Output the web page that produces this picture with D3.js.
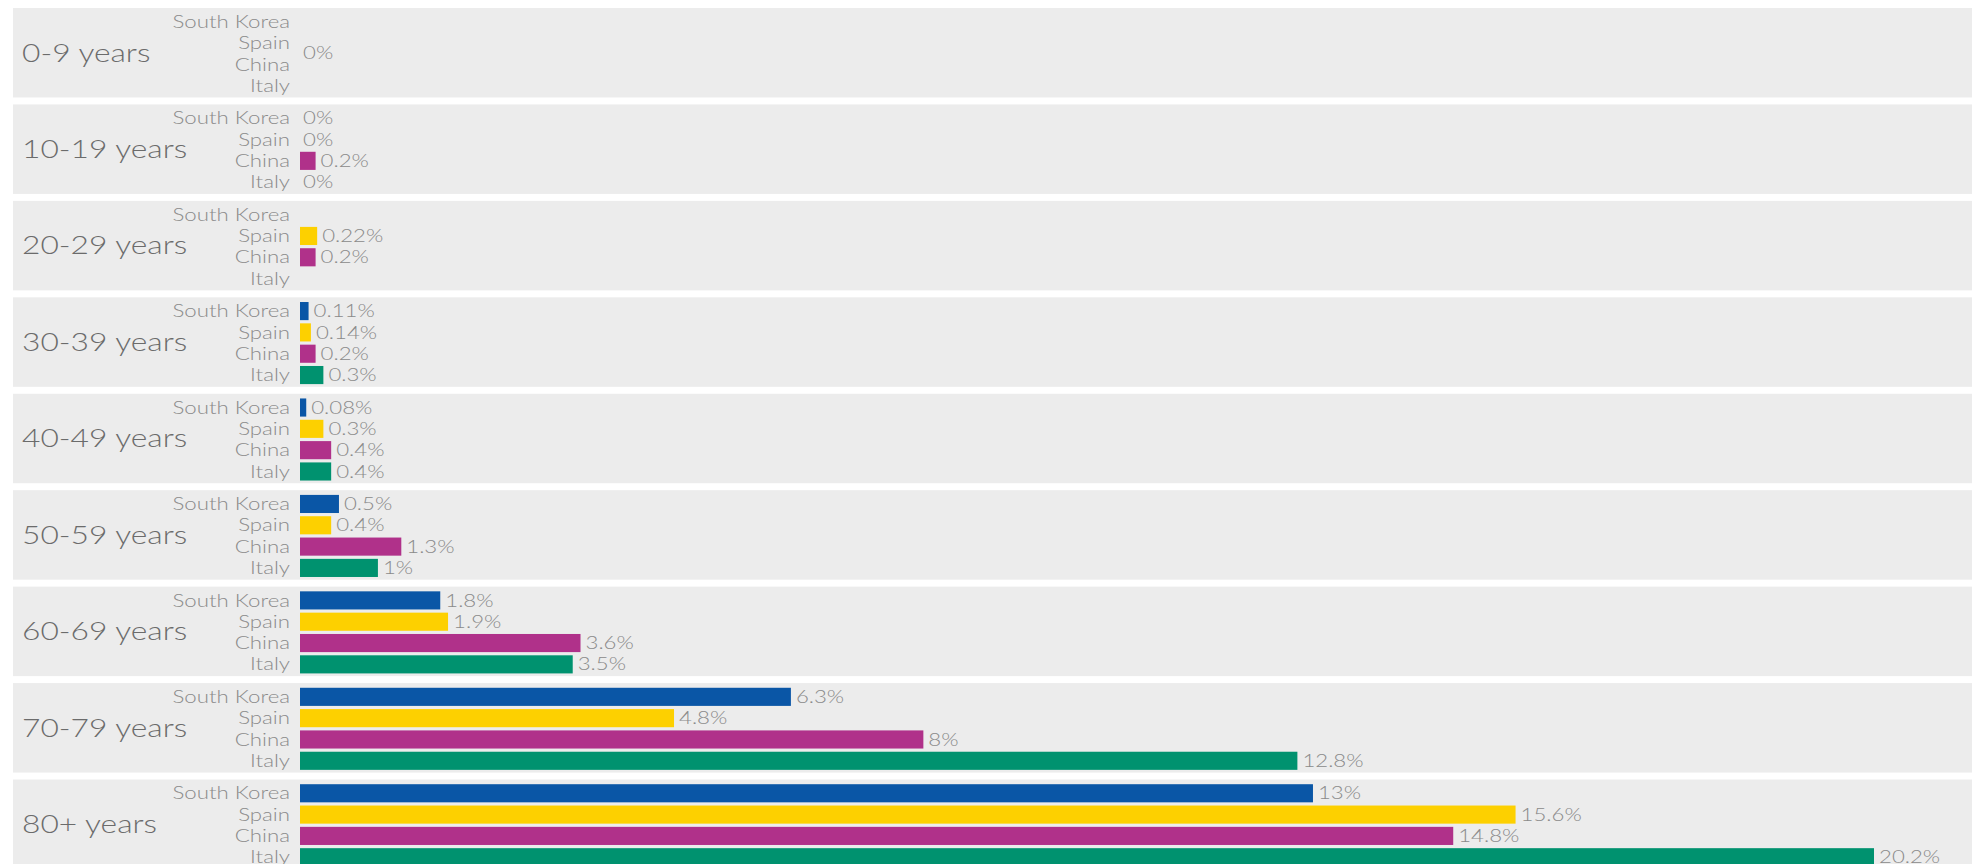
<!DOCTYPE html>
<html>
<head>
<meta charset="utf-8">
<script src="https://cdn.jsdelivr.net/npm/d3@7"></script>
<style>
  body { margin: 0; background: #fff; }
  svg { display: block; }
</style>
</head>
<body>
<svg width="1972" height="864"></svg>
<script>
var ageGroups = ["0-9 years", "10-19 years", "20-29 years", "30-39 years", "40-49 years",
                 "50-59 years", "60-69 years", "70-79 years", "80+ years"];
var countries = ["South Korea", "Spain", "China", "Italy"];

// fatality rate (%) per age group, null = no data
var southKorea = [null, 0, null, 0.11, 0.08, 0.5, 1.8, 6.3, 13];
var spain      = [null, 0, 0.22, 0.14, 0.3, 0.4, 1.9, 4.8, 15.6];
var china      = [null, 0.2, 0.2, 0.2, 0.4, 1.3, 3.6, 8, 14.8];
var italy      = [null, 0, null, 0.3, 0.4, 1, 3.5, 12.8, 20.2];

// single label shown for a group with no bars
var groupNotes = ["0%", null, null, null, null, null, null, null, null];

var colors = ["#0a56a6", "#fdd000", "#b0318a", "#00926f"];

var series = [southKorea, spain, china, italy];
var data = ageGroups.map(function(g, i) {
  return {
    group: g,
    note: groupNotes[i],
    rows: countries.map(function(c, j) { return {country: c, value: series[j][i], color: colors[j]}; })
  };
});

var svg = d3.select("svg");
var stretch = 1.27;

var y0 = d3.scaleBand()
    .domain(ageGroups)
    .range([8, 869])
    .paddingInner(0.072)
    .paddingOuter(0);

var y1 = d3.scaleBand()
    .domain(countries)
    .range([3, y0.bandwidth() - 1])
    .paddingInner(0.15)
    .paddingOuter(0.08);

var maxVal = d3.max(series, function(s) { return d3.max(s); });
var x = d3.scaleLinear()
    .domain([0, maxVal])
    .range([300, 1874]);

var panel = svg.selectAll(".panel")
  .data(data)
  .enter().append("g")
    .attr("class", "panel")
    .attr("transform", function(d) { return "translate(0," + y0(d.group) + ")"; });

panel.append("rect")
    .attr("x", 13)
    .attr("width", 1972 - 13)
    .attr("height", y0.bandwidth())
    .attr("fill", "#ececec");

panel.append("text")
    .attr("transform", "translate(22," + (y0.bandwidth() / 2) + ") scale(" + stretch + ",1)")
    .attr("dy", "0.35em")
    .attr("fill", "#6b6b6b")
    .style("font", "300 25px Lato, sans-serif")
    .text(function(d) { return d.group; });

panel.filter(function(d) { return d.note; }).append("text")
    .attr("transform", "translate(" + (x(0) + 3) + "," + (y0.bandwidth() / 2) + ") scale(" + stretch + ",1)")
    .attr("dy", "0.35em")
    .attr("fill", "#8a8a8a")
    .style("font", "300 17.5px Lato, sans-serif")
    .text(function(d) { return d.note; });

var row = panel.selectAll(".row")
  .data(function(d) { return d.rows; })
  .enter().append("g")
    .attr("class", "row")
    .attr("transform", function(d) { return "translate(0," + y1(d.country) + ")"; });

row.append("text")
    .attr("transform", "translate(290," + (y1.bandwidth() / 2) + ") scale(" + stretch + ",1)")
    .attr("dy", "0.35em")
    .attr("text-anchor", "end")
    .attr("fill", "#8a8a8a")
    .style("font", "300 17.5px Lato, sans-serif")
    .text(function(d) { return d.country; });

var valued = row.filter(function(d) { return d.value != null; });

valued.append("rect")
    .attr("x", x(0))
    .attr("height", y1.bandwidth())
    .attr("width", function(d) { return x(d.value) - x(0); })
    .attr("fill", function(d) { return d.color; });

valued.append("text")
    .attr("transform", function(d) {
      return "translate(" + (x(d.value) + (d.value > 0 ? 5 : 3)) + "," + (y1.bandwidth() / 2) + ") scale(" + stretch + ",1)";
    })
    .attr("dy", "0.35em")
    .attr("fill", "#8a8a8a")
    .style("font", "300 17.5px Lato, sans-serif")
    .text(function(d) { return d.value + "%"; });
</script>
</body>
</html>
